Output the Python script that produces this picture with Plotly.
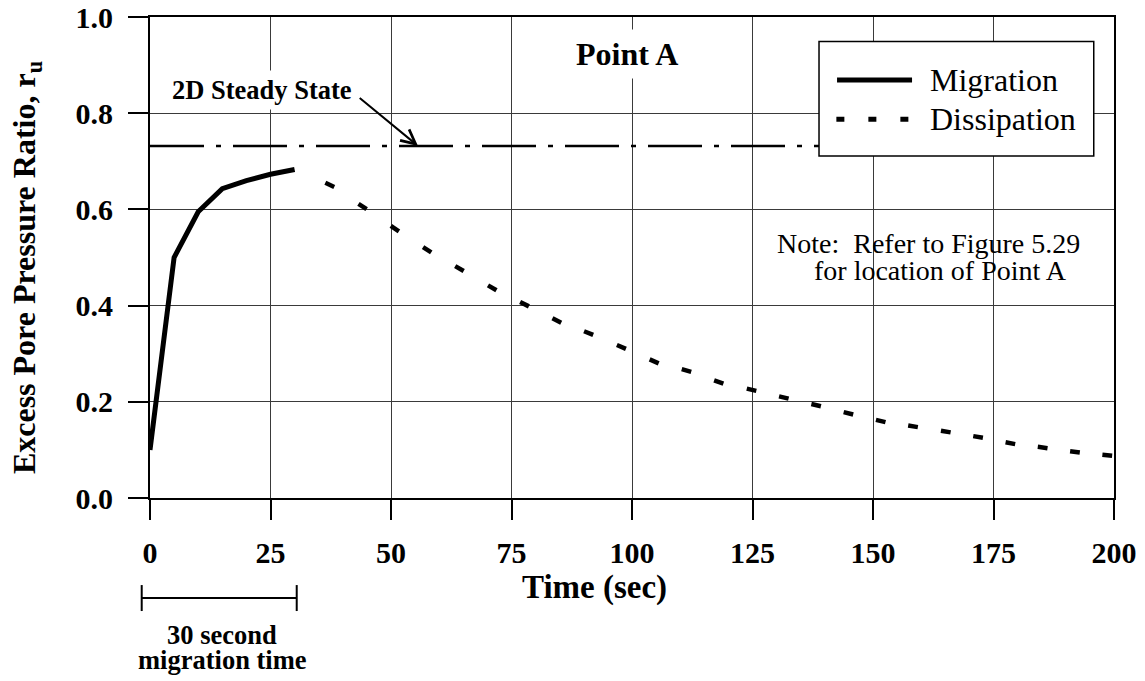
import plotly.graph_objects as go

# ---------------- data ----------------
x_ticks = [0, 25, 50, 75, 100, 125, 150, 175, 200]
y_ticks = [0.0, 0.2, 0.4, 0.6, 0.8, 1.0]

migration_time = [0, 5, 10, 15, 20, 25, 30]
migration_ru = [0.10, 0.50, 0.595, 0.643, 0.660, 0.673, 0.683]

dissipation_time = [30.6, 37.3, 44.1, 50.8, 57.5, 64.2, 71.0, 77.7, 84.4, 91.0,
                    97.8, 104.6, 111.3, 118.0, 124.8, 131.5, 138.2, 144.9, 151.6,
                    158.3, 165.1, 171.8, 178.5, 185.2, 191.9, 198.6]
dissipation_ru = [0.682, 0.651, 0.606, 0.560, 0.516, 0.477, 0.437, 0.403, 0.369, 0.343,
                  0.314, 0.284, 0.265, 0.241, 0.225, 0.209, 0.193, 0.176, 0.160,
                  0.149, 0.138, 0.127, 0.114, 0.105, 0.096, 0.089]

steady_time = [0, 140]
steady_ru = [0.732, 0.732]

FONT = "Liberation Serif"

fig = go.Figure()

fig.add_trace(go.Scatter(
    x=steady_time, y=steady_ru, mode="lines", name="2D Steady State",
    line=dict(color="black", width=2.5, dash="54px,12px,5px,12px"),
    showlegend=False, hoverinfo="skip"))

fig.add_trace(go.Scatter(
    x=migration_time, y=migration_ru, mode="lines", name="Migration",
    line=dict(color="black", width=5), showlegend=False))

fig.add_trace(go.Scatter(
    x=dissipation_time, y=dissipation_ru, mode="markers", name="Dissipation",
    marker=dict(symbol="line-ns", size=7, angleref="previous",
                color="black", line=dict(color="black", width=4.5)),
    showlegend=False))

axis_common = dict(
    showline=True, linecolor="black", linewidth=2, mirror=True,
    ticks="outside", ticklen=20, tickwidth=2, tickcolor="black",
    showgrid=True, gridcolor="#3a3a3a", gridwidth=1, zeroline=False,
    automargin=False,
    tickfont=dict(family=FONT, size=30, color="black", weight="bold"),
)

fig.update_xaxes(range=[0, 200], tickvals=x_ticks, ticklabelstandoff=7, **axis_common)
fig.update_yaxes(range=[0, 1], tickvals=y_ticks, tickformat=".1f", ticklabelstandoff=9, **axis_common)

shapes = []
# manual legend box
shapes.append(dict(type="rect", xref="paper", yref="paper",
                   x0=0.694, x1=0.979, y0=0.711, y1=0.949,
                   fillcolor="white", line=dict(color="black", width=1.5), layer="above"))
shapes.append(dict(type="line", xref="paper", yref="paper",
                   x0=0.7127, x1=0.7905, y0=0.869, y1=0.869,
                   line=dict(color="black", width=5), layer="above"))
shapes.append(dict(type="line", xref="paper", yref="paper",
                   x0=0.7120, x1=0.7905, y0=0.7873, y1=0.7873,
                   line=dict(color="black", width=5, dash="8px,24px"), layer="above"))
# 30-second bracket
shapes.append(dict(type="line", xref="paper", yref="paper",
                   x0=-0.0086, x1=0.1522, y0=-0.2079, y1=-0.2079,
                   line=dict(color="black", width=2)))
for xp in (-0.0086, 0.1522):
    shapes.append(dict(type="line", xref="paper", yref="paper",
                       x0=xp, x1=xp, y0=-0.181, y1=-0.235,
                       line=dict(color="black", width=2)))

annotations = [
    dict(text="Migration", xref="paper", yref="paper", x=0.807, y=0.869,
         xanchor="left", yanchor="middle", showarrow=False,
         font=dict(family=FONT, size=32, color="black")),
    dict(text="Dissipation", xref="paper", yref="paper", x=0.807, y=0.787,
         xanchor="left", yanchor="middle", showarrow=False,
         font=dict(family=FONT, size=32, color="black")),
    dict(text="Point A", xref="x", yref="y", x=99, y=0.923,
         showarrow=False, bgcolor="white", borderpad=6,
         font=dict(family=FONT, size=32, color="black", weight="bold")),
    dict(text="2D Steady State", xref="x", yref="y", x=23.2, y=0.848,
         showarrow=False, bgcolor="white", borderpad=4,
         font=dict(family=FONT, size=26.5, color="black", weight="bold")),
    dict(text="", xref="x", yref="y", x=55.6, y=0.732,
         axref="x", ayref="y", ax=43.2, ay=0.834,
         showarrow=True, arrowhead=5, arrowsize=1.4, arrowwidth=2, arrowcolor="black"),
    dict(text="Note:\u00a0 Refer to Figure 5.29", xref="paper", yref="paper",
         x=0.648, y=0.530, xanchor="left", yanchor="middle", showarrow=False,
         font=dict(family=FONT, size=28, color="black")),
    dict(text="for location of Point A", xref="paper", yref="paper",
         x=0.687, y=0.472, xanchor="left", yanchor="middle", showarrow=False,
         font=dict(family=FONT, size=28, color="black")),
    dict(text="Time (sec)", xref="paper", yref="paper", x=0.4606, y=-0.187,
         xanchor="center", yanchor="middle", showarrow=False,
         font=dict(family=FONT, size=33, color="black", weight="bold")),
    dict(text="Excess Pore Pressure Ratio, r<sub>u</sub>", xref="paper", yref="paper",
         x=-0.1286, y=0.478, xanchor="center", yanchor="middle", textangle=-90,
         showarrow=False, font=dict(family=FONT, size=32, color="black", weight="bold")),
    dict(text="30 second", xref="paper", yref="paper", x=0.0747, y=-0.2838,
         xanchor="center", yanchor="middle", showarrow=False,
         font=dict(family=FONT, size=26.5, color="black", weight="bold")),
    dict(text="migration time", xref="paper", yref="paper", x=0.0747, y=-0.3375,
         xanchor="center", yanchor="middle", showarrow=False,
         font=dict(family=FONT, size=26.5, color="black", weight="bold")),
]

fig.update_layout(
    width=1145, height=681,
    margin=dict(l=150, r=31, t=17, b=183),
    paper_bgcolor="white", plot_bgcolor="white",
    showlegend=False,
    shapes=shapes, annotations=annotations,
    font=dict(family=FONT, color="black"),
)

fig.write_html("out.html", config={"displayModeBar": False},
               post_script="document.body.style.margin='0';document.body.style.overflow='hidden';")
